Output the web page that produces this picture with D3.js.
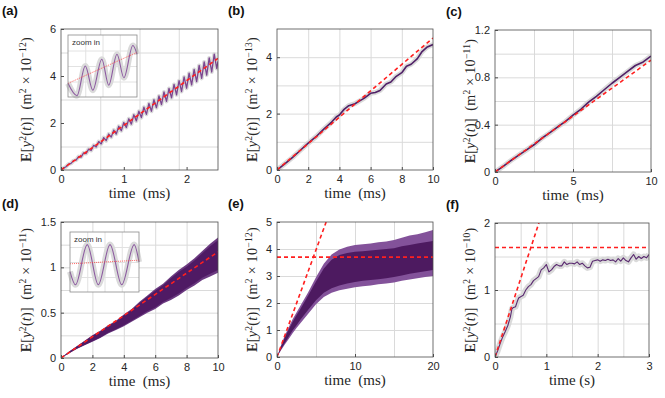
<!DOCTYPE html>
<html>
<head>
<meta charset="utf-8">
<script src="https://cdn.jsdelivr.net/npm/d3@7"></script>
<style>
  body { margin: 0; background: #fff; }
  svg { display: block; }
  .tick text { font-family: Arial, "Liberation Sans", sans-serif; font-size: 11px; fill: #262626; }
  .panel-tag { font-family: Arial, "Liberation Sans", sans-serif; font-weight: bold; font-size: 13px; fill: #111; }
  .inset-tag { font-family: Arial, "Liberation Sans", sans-serif; font-size: 8px; fill: #333; }
</style>
</head>
<body>
<svg id="fig" width="665" height="398"></svg>
<script>
// ---- values ----

// (a) oscillating mean, time in ms, value in 1e-12 m^2
const aTime = [
  0, 0.04, 0.08, 0.12, 0.16, 0.20, 0.24, 0.28,
  0.32, 0.36, 0.40, 0.44, 0.48, 0.52, 0.56, 0.60,
  0.64, 0.68, 0.72, 0.76, 0.80, 0.84, 0.88, 0.92,
  0.96, 1.00, 1.04, 1.08, 1.12, 1.16, 1.20, 1.24,
  1.28, 1.32, 1.36, 1.40, 1.44, 1.48, 1.52, 1.56,
  1.60, 1.64, 1.68, 1.72, 1.76, 1.80, 1.84, 1.88,
  1.92, 1.96, 2.00, 2.04, 2.08, 2.12, 2.16, 2.20,
  2.24, 2.28, 2.32, 2.36, 2.40, 2.44, 2.48, 2.50
];
const aValue = [
  0, 0.08, 0.14, 0.25, 0.28, 0.40, 0.42, 0.57,
  0.55, 0.73, 0.70, 0.89, 0.83, 1.05, 0.98, 1.21,
  1.11, 1.38, 1.25, 1.53, 1.40, 1.70, 1.53, 1.86,
  1.67, 2.02, 1.81, 2.18, 1.95, 2.35, 2.09, 2.50,
  2.23, 2.67, 2.37, 2.83, 2.50, 2.99, 2.65, 3.15,
  2.78, 3.32, 2.92, 3.47, 3.07, 3.64, 3.20, 3.80,
  3.34, 3.96, 3.48, 4.12, 3.62, 4.28, 3.76, 4.45,
  3.90, 4.60, 4.04, 4.77, 4.17, 4.93, 4.32, 4.62
];
const aFitTime = [0, 2.5];
const aFitValue = [0, 4.75];
// (a) inset, normalised 0..1 units
const aInsetX = [0, 0.13, 0.25, 0.36, 0.49, 0.59, 0.71, 0.81, 0.94, 1.0];
const aInsetY = [0.22, 0.02, 0.5, 0.11, 0.61, 0.19, 0.69, 0.31, 0.83, 0.69];
const aInsetFitY = [0.22, 0.72];

// (b)
const bTime = [0, 0.5, 1, 1.5, 2, 2.5, 3, 3.5, 3.8, 4, 4.3, 4.6, 5, 5.3,
  5.6, 6, 6.3, 6.6, 7, 7.3, 7.6, 8, 8.3, 8.6, 9, 9.3, 9.6, 10];
const bValue = [0, 0.22, 0.45, 0.7, 0.95, 1.18, 1.45, 1.7, 1.88, 1.95, 2.15, 2.28, 2.35, 2.45,
  2.55, 2.72, 2.75, 2.82, 3.05, 3.12, 3.3, 3.45, 3.68, 3.75, 3.95, 4.2, 4.35, 4.45];
const bFitTime = [0, 10];
const bFitValue = [0, 4.68];

// (c)
const cTime = [0, 0.5, 1, 1.5, 2, 2.5, 3, 3.5, 4, 4.5, 5, 5.5, 6, 6.5, 7, 7.5, 8, 8.5, 9, 9.5, 10];
const cValue = [0, 0.045, 0.095, 0.14, 0.185, 0.23, 0.285, 0.33, 0.38, 0.425, 0.48,
  0.53, 0.59, 0.64, 0.695, 0.75, 0.8, 0.85, 0.9, 0.93, 0.98];
const cFitTime = [0, 10];
const cFitValue = [0, 0.945];

// (d) spread of the ensemble
const dTime = [0, 0.5, 1, 1.5, 2, 2.5, 3, 3.5, 4, 4.5, 5, 5.5, 6, 6.5, 7, 7.5, 8, 8.5, 9, 9.5, 10];
const dUpper = [0, 0.07, 0.13, 0.19, 0.25, 0.30, 0.36, 0.41, 0.48, 0.54, 0.62,
  0.69, 0.76, 0.82, 0.90, 0.97, 1.03, 1.10, 1.18, 1.26, 1.33];
const dLower = [0, 0.05, 0.10, 0.14, 0.18, 0.22, 0.27, 0.31, 0.35, 0.40, 0.45,
  0.50, 0.54, 0.60, 0.64, 0.69, 0.75, 0.80, 0.86, 0.90, 0.94];
const dFitTime = [0, 10];
const dFitValue = [0, 1.17];
const dInsetX = [0, 0.08, 0.25, 0.41, 0.58, 0.75, 0.93, 1.0];
const dInsetY = [0.34, 0.12, 0.79, 0.12, 0.79, 0.12, 0.79, 0.5];
const dInsetFitY = [0.47, 0.53];

// (e)
const eTime = [0, 0.5, 1, 1.5, 2, 2.5, 3, 4, 5, 6, 7, 8, 9, 10, 11, 12, 13, 14, 15, 16, 17, 18, 19, 20];
const eOuterHi = [0, 0.42, 0.8, 1.1, 1.4, 1.65, 1.9, 2.4, 2.95, 3.45, 3.8, 3.98, 4.08, 4.15,
  4.18, 4.2, 4.25, 4.28, 4.33, 4.42, 4.5, 4.55, 4.62, 4.7];
const eInnerHi = [0, 0.38, 0.72, 1.02, 1.3, 1.55, 1.78, 2.28, 2.8, 3.28, 3.6, 3.78, 3.85, 3.9,
  3.92, 3.94, 3.97, 4.0, 4.03, 4.1, 4.15, 4.2, 4.25, 4.3];
const eInnerLo = [0, 0.28, 0.52, 0.75, 0.98, 1.18, 1.38, 1.75, 2.1, 2.38, 2.55, 2.65, 2.72, 2.78,
  2.82, 2.85, 2.88, 2.92, 2.96, 3.02, 3.08, 3.13, 3.18, 3.22];
const eOuterLo = [0, 0.24, 0.46, 0.67, 0.88, 1.07, 1.25, 1.6, 1.95, 2.22, 2.38, 2.47, 2.53, 2.58,
  2.62, 2.65, 2.69, 2.72, 2.76, 2.82, 2.87, 2.92, 2.96, 3.0];
const eSlopeTime = [0, 6.3];
const eSlopeValue = [0, 5];
const ePlateau = 3.7;

// (f) time in s, value in 1e-10 m^2
const fTime = [0, 0.05, 0.1, 0.15, 0.2, 0.25, 0.3, 0.33, 0.36, 0.4, 0.43, 0.46, 0.5, 0.55,
  0.6, 0.65, 0.7, 0.75, 0.8, 0.85, 0.9, 0.95, 1.0, 1.05, 1.1, 1.15, 1.2, 1.25, 1.3, 1.35,
  1.4, 1.45, 1.5, 1.55, 1.6, 1.65, 1.7, 1.75, 1.8, 1.85, 1.9, 1.95, 2.0, 2.05, 2.1, 2.15,
  2.2, 2.25, 2.3, 2.35, 2.4, 2.45, 2.5, 2.55, 2.6, 2.65, 2.7, 2.75, 2.8, 2.85, 2.9, 2.95, 3.0];
const fValue = [0, 0.09, 0.2, 0.3, 0.38, 0.47, 0.6, 0.72, 0.74, 0.75, 0.82, 0.88, 0.9, 0.92,
  1.0, 1.05, 1.08, 1.14, 1.17, 1.2, 1.3, 1.33, 1.38, 1.27, 1.3, 1.35, 1.38, 1.36, 1.36, 1.42,
  1.38, 1.4, 1.4, 1.39, 1.42, 1.38, 1.4, 1.36, 1.33, 1.34, 1.43, 1.44, 1.45, 1.43, 1.45, 1.44,
  1.46, 1.44, 1.45, 1.42, 1.47, 1.43, 1.48, 1.44, 1.42, 1.48, 1.53, 1.46, 1.5, 1.47, 1.5, 1.48, 1.53];
const fSlopeTime = [0, 0.855];
const fSlopeValue = [0, 2];
const fPlateau = 1.635;

// ---- axes layout ----
const panels = [
  { id: 'a', tag: '(a)', left: 61, right: 218, top: 29, bottom: 170, xDomain: [0, 2.5], yDomain: [0, 6],
    xTicks: [0, 1, 2], yTicks: [0, 2, 4, 6], xGrid: [0.625, 1.25, 1.875], yGrid: [1, 3, 5],
    exp: '12', xLabel: 'time\u00a0\u00a0(ms)', labelOffset: 30 },
  { id: 'b', tag: '(b)', left: 277, right: 433, top: 29, bottom: 170, xDomain: [0, 10], yDomain: [0, 5],
    xTicks: [0, 2, 4, 6, 8, 10], yTicks: [0, 2, 4], xGrid: [2, 4, 6, 8], yGrid: [1, 2, 3, 4],
    exp: '13', xLabel: 'time\u00a0\u00a0(ms)', labelOffset: 20 },
  { id: 'c', tag: '(c)', left: 495, right: 651, top: 30, bottom: 172, xDomain: [0, 10], yDomain: [0, 1.2],
    xTicks: [0, 5, 10], yTicks: [0, 0.4, 0.8, 1.2], xGrid: [2.5, 5, 7.5], yGrid: [0.2, 0.4, 0.6, 0.8, 1.0],
    exp: '11', xLabel: 'time\u00a0\u00a0(ms)', labelOffset: 20 },
  { id: 'd', tag: '(d)', left: 61, right: 218, top: 222, bottom: 358, xDomain: [0, 10], yDomain: [0, 1.5],
    xTicks: [0, 2, 4, 6, 8, 10], yTicks: [0, 0.5, 1, 1.5], xGrid: [2, 4, 6, 8], yGrid: [0.25, 0.5, 0.75, 1, 1.25],
    exp: '11', xLabel: 'time\u00a0\u00a0(ms)', labelOffset: 30 },
  { id: 'e', tag: '(e)', left: 277, right: 433, top: 222, bottom: 357, xDomain: [0, 20], yDomain: [0, 5],
    xTicks: [0, 10, 20], yTicks: [0, 1, 2, 3, 4, 5], xGrid: [5, 10, 15], yGrid: [1, 2, 3, 4],
    exp: '12', xLabel: 'time\u00a0\u00a0(ms)', labelOffset: 20 },
  { id: 'f', tag: '(f)', left: 495, right: 649, top: 223, bottom: 357, xDomain: [0, 3], yDomain: [0, 2],
    xTicks: [0, 1, 2, 3], yTicks: [0, 1, 2], xGrid: [0.5, 1, 1.5, 2, 2.5], yGrid: [0.5, 1, 1.5],
    exp: '10', xLabel: 'time\u00a0(s)', labelOffset: 20 }
];

const purple = '#4f1f66';
const purpleLight = '#7b4690';
const red = '#ff1f1f';
const serif = '"Liberation Serif", "Times New Roman", serif';
const svg = d3.select('#fig');

function zipXY (xs, ys) {
  return xs.map((x, i) => [x, ys[i]]);
}

function setupPanel (p) {
  const x = d3.scaleLinear().domain(p.xDomain).range([p.left, p.right]);
  const y = d3.scaleLinear().domain(p.yDomain).range([p.bottom, p.top]);
  const g = svg.append('g').attr('class', 'panel-' + p.id);

  g.append('g')
    .attr('transform', 'translate(0,' + p.bottom + ')')
    .call(d3.axisBottom(x).tickValues(p.xGrid).tickSize(-(p.bottom - p.top)).tickFormat(''))
    .call((s) => {
      s.select('.domain').remove();
      s.selectAll('line').attr('stroke', '#dadada').attr('stroke-width', 1);
    });
  g.append('g')
    .attr('transform', 'translate(' + p.left + ',0)')
    .call(d3.axisLeft(y).tickValues(p.yGrid).tickSize(-(p.right - p.left)).tickFormat(''))
    .call((s) => {
      s.select('.domain').remove();
      s.selectAll('line').attr('stroke', '#dadada').attr('stroke-width', 1);
    });

  svg.append('clipPath').attr('id', 'clip-' + p.id)
    .append('rect')
    .attr('x', p.left).attr('y', p.top)
    .attr('width', p.right - p.left).attr('height', p.bottom - p.top);

  const plot = g.append('g').attr('clip-path', 'url(#clip-' + p.id + ')');
  return { g, x, y, plot };
}

function finishPanel (p, ax) {
  const g = ax.g;
  g.append('rect')
    .attr('x', p.left).attr('y', p.top)
    .attr('width', p.right - p.left).attr('height', p.bottom - p.top)
    .attr('fill', 'none').attr('stroke', '#4d4d4d').attr('stroke-width', 0.8);

  const fmt = d3.format('~g');
  g.append('g')
    .attr('transform', 'translate(0,' + p.bottom + ')')
    .call(d3.axisBottom(ax.x).tickValues(p.xTicks).tickSizeInner(-3).tickSizeOuter(0).tickPadding(5).tickFormat(fmt))
    .call((s) => {
      s.select('.domain').remove();
      s.selectAll('line').attr('stroke', '#4d4d4d');
    });
  g.append('g')
    .attr('transform', 'translate(' + p.left + ',0)')
    .call(d3.axisLeft(ax.y).tickValues(p.yTicks).tickSizeInner(-3).tickSizeOuter(0).tickPadding(5).tickFormat(fmt))
    .call((s) => {
      s.select('.domain').remove();
      s.selectAll('line').attr('stroke', '#4d4d4d');
    });

  // x label
  g.append('text')
    .style('font-family', serif)
    .style('font-size', '15px')
    .style('fill', '#262626')
    .attr('x', (p.left + p.right) / 2)
    .attr('y', p.bottom + 28)
    .attr('text-anchor', 'middle')
    .text(p.xLabel);

  // y label: E[y^2(t)] (m^2 x 10^-n)
  const lbl = g.append('text')
    .style('font-family', serif)
    .style('font-size', '14px')
    .style('letter-spacing', '0.3px')
    .style('fill', '#262626')
    .attr('text-anchor', 'middle')
    .attr('transform', 'translate(' + (p.left - p.labelOffset) + ',' + ((p.top + p.bottom) / 2) + ') rotate(-90)');
  lbl.append('tspan').attr('font-weight', 'bold').text('E');
  lbl.append('tspan').text('[');
  lbl.append('tspan').attr('font-style', 'italic').text('y');
  lbl.append('tspan').attr('dy', -5).style('font-size', '9.5px').text('2');
  lbl.append('tspan').attr('dy', 5).text('(');
  lbl.append('tspan').attr('font-style', 'italic').text('t');
  lbl.append('tspan').text(')]\u2002(m');
  lbl.append('tspan').attr('dy', -5).style('font-size', '9.5px').text('2');
  lbl.append('tspan').attr('dy', 5).text('\u00a0\u00d7\u00a010');
  lbl.append('tspan').attr('dy', -5).style('font-size', '9.5px').text('\u2212' + p.exp);
  lbl.append('tspan').attr('dy', 5).text(')');

  svg.append('text')
    .attr('class', 'panel-tag')
    .attr('x', p.left < 100 ? 2 : p.left - 49)
    .attr('y', p.top - 14)
    .text(p.tag);
}

function drawMeanLine (ax, t, v, color, width, bandWidth) {
  const line = d3.line().x((d) => ax.x(d[0])).y((d) => ax.y(d[1]));
  const pts = zipXY(t, v);
  ax.plot.append('path').datum(pts)
    .attr('d', line).attr('fill', 'none')
    .attr('stroke', '#d4d4d4').attr('stroke-opacity', 0.85)
    .attr('stroke-width', bandWidth).attr('stroke-linejoin', 'round');
  ax.plot.append('path').datum(pts)
    .attr('d', line).attr('fill', 'none')
    .attr('stroke', color).attr('stroke-width', width).attr('stroke-linejoin', 'round');
}

function drawDashed (ax, t, v) {
  const line = d3.line().x((d) => ax.x(d[0])).y((d) => ax.y(d[1]));
  ax.plot.append('path').datum(zipXY(t, v))
    .attr('d', line).attr('fill', 'none')
    .attr('stroke', red).attr('stroke-width', 1.6).attr('stroke-dasharray', '4,3');
}

function drawHorizontal (ax, value, p) {
  drawDashed(ax, p.xDomain, [value, value]);
}

function drawBand (ax, t, hi, lo, color) {
  const area = d3.area()
    .x((d) => ax.x(d[0]))
    .y0((d) => ax.y(d[2]))
    .y1((d) => ax.y(d[1]));
  ax.plot.append('path')
    .datum(t.map((tt, i) => [tt, hi[i], lo[i]]))
    .attr('d', area).attr('fill', color);
}

function drawInset (ax, box, xs, ys, fitY) {
  const ix = d3.scaleLinear().domain([0, 1]).range([box.x, box.x + box.w]);
  const iy = d3.scaleLinear().domain([0, 1]).range([box.y + box.h, box.y]);
  const ig = ax.g.append('g');
  ig.append('rect').attr('x', box.x).attr('y', box.y).attr('width', box.w).attr('height', box.h)
    .attr('fill', '#fff');
  ig.append('g')
    .attr('transform', 'translate(0,' + (box.y + box.h) + ')')
    .call(d3.axisBottom(ix).tickValues([0.25, 0.5, 0.75]).tickSize(-box.h).tickFormat(''))
    .call((s) => { s.select('.domain').remove(); s.selectAll('line').attr('stroke', '#e2e2e2'); });
  ig.append('g')
    .attr('transform', 'translate(' + box.x + ',0)')
    .call(d3.axisLeft(iy).tickValues([0.25, 0.5, 0.75]).tickSize(-box.w).tickFormat(''))
    .call((s) => { s.select('.domain').remove(); s.selectAll('line').attr('stroke', '#e2e2e2'); });

  const line = d3.line().curve(d3.curveMonotoneX).x((d) => ix(d[0])).y((d) => iy(d[1]));
  const pts = zipXY(xs, ys);
  ig.append('path').datum(pts).attr('d', line).attr('fill', 'none')
    .attr('stroke', '#dadada').attr('stroke-width', 6);
  ig.append('path').datum(pts).attr('d', line).attr('fill', 'none')
    .attr('stroke', '#8c5aa0').attr('stroke-width', 1.1);
  ig.append('path').datum(zipXY([0, 1], fitY)).attr('d', d3.line().x((d) => ix(d[0])).y((d) => iy(d[1])))
    .attr('fill', 'none').attr('stroke', '#ff4040').attr('stroke-width', 0.8).attr('stroke-dasharray', '1,1');
  ig.append('rect').attr('x', box.x).attr('y', box.y).attr('width', box.w).attr('height', box.h)
    .attr('fill', 'none').attr('stroke', '#8a8a8a').attr('stroke-width', 0.8);
  ig.append('text').attr('class', 'inset-tag').attr('x', box.x + 4).attr('y', box.y + 10).text('zoom in');
}

// (a)
let p = panels[0];
let ax = setupPanel(p);
drawMeanLine(ax, aTime, aValue, purpleLight, 1.3, 4);
drawDashed(ax, aFitTime, aFitValue);
drawInset(ax, { x: 68, y: 35, w: 69, h: 62 }, aInsetX, aInsetY, aInsetFitY);
finishPanel(p, ax);

// (b)
p = panels[1];
ax = setupPanel(p);
drawMeanLine(ax, bTime, bValue, purple, 1.6, 5);
drawDashed(ax, bFitTime, bFitValue);
finishPanel(p, ax);

// (c)
p = panels[2];
ax = setupPanel(p);
drawMeanLine(ax, cTime, cValue, purple, 1.6, 5);
drawDashed(ax, cFitTime, cFitValue);
finishPanel(p, ax);

// (d)
p = panels[3];
ax = setupPanel(p);
drawBand(ax, dTime, dUpper, dLower, '#6b3a80');
drawBand(ax, dTime, dUpper.map((v, i) => v - (v - dLower[i]) * 0.08), dLower.map((v, i) => v + (dUpper[i] - v) * 0.08), '#4f1a64');
drawDashed(ax, dFitTime, dFitValue);
drawInset(ax, { x: 70, y: 232, w: 69, h: 60 }, dInsetX, dInsetY, dInsetFitY);
finishPanel(p, ax);

// (e)
p = panels[4];
ax = setupPanel(p);
drawBand(ax, eTime, eOuterHi, eOuterLo, '#83529a');
drawBand(ax, eTime, eInnerHi, eInnerLo, '#4d1a60');
drawDashed(ax, eSlopeTime, eSlopeValue);
drawHorizontal(ax, ePlateau, p);
finishPanel(p, ax);

// (f)
p = panels[5];
ax = setupPanel(p);
drawMeanLine(ax, fTime, fValue, '#5a2a70', 1.1, 6);
drawDashed(ax, fSlopeTime, fSlopeValue);
drawHorizontal(ax, fPlateau, p);
finishPanel(p, ax);
</script>
</body>
</html>
